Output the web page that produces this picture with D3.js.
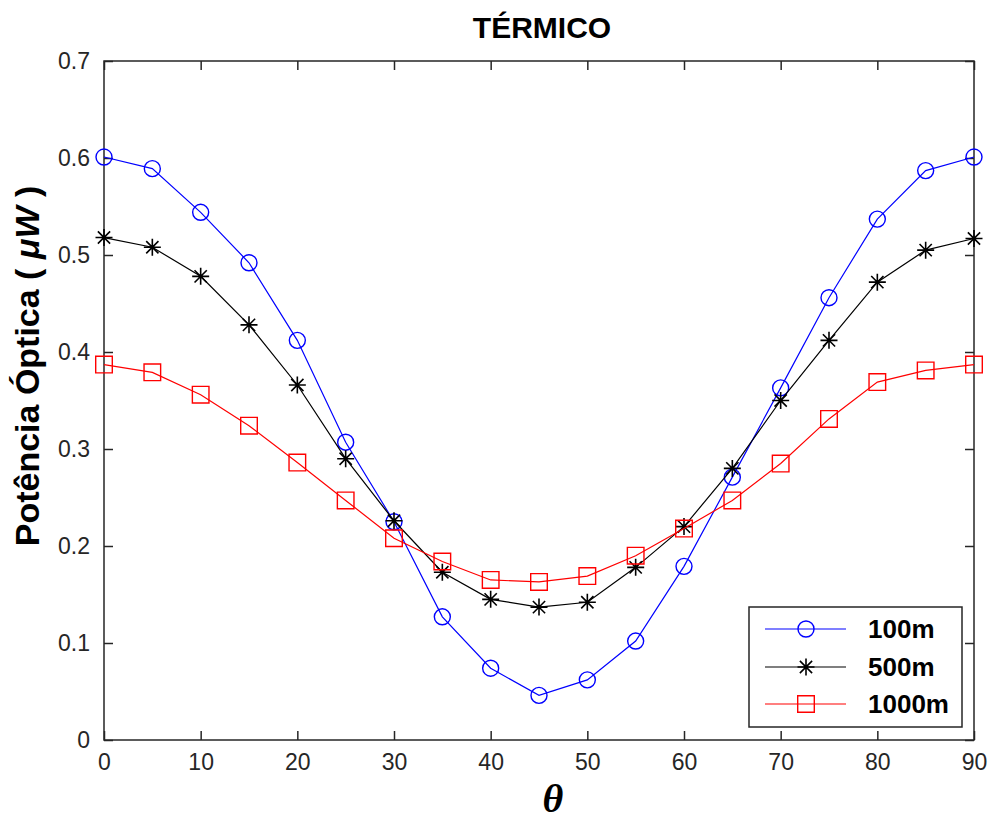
<!DOCTYPE html>
<html>
<head>
<meta charset="utf-8">
<script src="https://cdn.jsdelivr.net/npm/d3@7"></script>
<style>
  html, body { margin: 0; padding: 0; background: #ffffff; }
  svg { display: block; font-family: "Liberation Sans", Arial, sans-serif; }
</style>
</head>
<body>
<svg id="chart" width="988" height="821"></svg>
<script>
// Incidence angle θ (degrees)
const angles = [0, 5, 10, 15, 20, 25, 30, 35, 40, 45, 50, 55, 60, 65, 70, 75, 80, 85, 90];

// Optical power (µW) for each link length
const power100m  = [0.601, 0.589, 0.544, 0.492, 0.412, 0.307, 0.225, 0.127, 0.074, 0.046, 0.062, 0.102, 0.179, 0.271, 0.363, 0.456, 0.537, 0.587, 0.601];
const power500m  = [0.518, 0.508, 0.478, 0.428, 0.366, 0.290, 0.226, 0.173, 0.145, 0.137, 0.142, 0.178, 0.220, 0.280, 0.350, 0.412, 0.472, 0.505, 0.517];
const power1000m = [0.387, 0.379, 0.356, 0.324, 0.286, 0.247, 0.208, 0.184, 0.165, 0.163, 0.169, 0.190, 0.218, 0.247, 0.285, 0.331, 0.369, 0.381, 0.387];

const seriesNames = ["100m", "500m", "1000m"];
const xTicks = [0, 10, 20, 30, 40, 50, 60, 70, 80, 90];
const yTicks = [0, 0.1, 0.2, 0.3, 0.4, 0.5, 0.6, 0.7];

const series = [
  { name: seriesNames[0], values: power100m,  color: "#0000ff", marker: "circle" },
  { name: seriesNames[1], values: power500m,  color: "#000000", marker: "star" },
  { name: seriesNames[2], values: power1000m, color: "#ff0000", marker: "square" }
];

const svg = d3.select("#chart");
const plot = { left: 104, right: 974, top: 61, bottom: 740 };
const axisColor = "#262626";

const x = d3.scaleLinear().domain([0, 90]).range([plot.left, plot.right]);
const y = d3.scaleLinear().domain([0, 0.7]).range([plot.bottom, plot.top]);

// Marker shapes
function markerPath(type, r) {
  const p = d3.path();
  if (type === "circle") {
    p.moveTo(r, 0); p.arc(0, 0, r, 0, 2 * Math.PI);
    return p.toString();
  }
  if (type === "square") {
    p.rect(-r, -r, 2 * r, 2 * r);
    return p.toString();
  }
  // asterisk: plus + diagonal cross
  const d = r * 0.72;
  p.moveTo(-r, 0); p.lineTo(r, 0);
  p.moveTo(0, -r); p.lineTo(0, r);
  p.moveTo(-d, -d); p.lineTo(d, d);
  p.moveTo(-d, d); p.lineTo(d, -d);
  return p.toString();
}
const markerSize = { circle: 8, square: 8.3, star: 8.5 };

// Axes box with inward ticks on all sides
const axisG = svg.append("g").attr("class", "axes");

const bottomAxis = d3.axisBottom(x).tickValues(xTicks).tickSize(-9).tickPadding(14).tickFormat(d3.format("d"));
const topAxis = d3.axisTop(x).tickValues(xTicks).tickSize(-9).tickFormat("");
const leftAxis = d3.axisLeft(y).tickValues(yTicks).tickSize(-9).tickPadding(14).tickFormat(d => d === 0 ? "0" : d3.format(".1f")(d));
const rightAxis = d3.axisRight(y).tickValues(yTicks).tickSize(-9).tickFormat("");

function styleAxis(g) {
  g.select(".domain").remove();
  g.selectAll(".tick line").attr("stroke", axisColor).attr("stroke-width", 1.5);
  g.selectAll(".tick text").attr("fill", axisColor).attr("font-size", 23).attr("font-family", "'Liberation Sans', Arial, sans-serif");
}

axisG.append("g").attr("transform", `translate(0,${plot.bottom})`).call(bottomAxis).call(styleAxis);
axisG.append("g").attr("transform", `translate(0,${plot.top})`).call(topAxis).call(styleAxis);
axisG.append("g").attr("transform", `translate(${plot.left},0)`).call(leftAxis).call(styleAxis);
axisG.append("g").attr("transform", `translate(${plot.right},0)`).call(rightAxis).call(styleAxis);

axisG.append("rect")
  .attr("x", plot.left).attr("y", plot.top)
  .attr("width", plot.right - plot.left).attr("height", plot.bottom - plot.top)
  .attr("fill", "none").attr("stroke", axisColor).attr("stroke-width", 1.5);

// Data lines and markers
const line = d3.line().x((d, i) => x(angles[i])).y(d => y(d));

const seriesG = svg.append("g").attr("class", "series");
series.forEach(s => {
  const g = seriesG.append("g");
  g.append("path")
    .attr("d", line(s.values))
    .attr("fill", "none")
    .attr("stroke", s.color)
    .attr("stroke-width", 1.2);
  g.selectAll("path.marker")
    .data(s.values)
    .join("path")
    .attr("class", "marker")
    .attr("transform", (d, i) => `translate(${x(angles[i])},${y(d)})`)
    .attr("d", markerPath(s.marker, markerSize[s.marker]))
    .attr("fill", "none")
    .attr("stroke", s.color)
    .attr("stroke-width", s.marker === "star" ? 1.6 : 1.4);
});

// Title
svg.append("text")
  .attr("x", (plot.left + plot.right) / 2 + 3)
  .attr("y", 38)
  .attr("text-anchor", "middle")
  .attr("font-size", 30)
  .attr("font-weight", "bold")
  .attr("fill", "#000")
  .text("TÉRMICO");

// Y axis label
const yLabel = svg.append("text")
  .attr("transform", `translate(39,${366}) rotate(-90)`)
  .attr("text-anchor", "middle")
  .attr("font-size", 34)
  .attr("font-weight", "bold")
  .attr("fill", "#000");
yLabel.append("tspan").text("Potência Óptica ( ");
yLabel.append("tspan").attr("font-style", "italic").text("μW");
yLabel.append("tspan").text(" )");

// X axis label
svg.append("text")
  .attr("x", (plot.left + plot.right) / 2 + 14)
  .attr("y", 812)
  .attr("text-anchor", "middle")
  .attr("font-size", 40)
  .attr("font-weight", "bold")
  .attr("font-style", "italic")
  .attr("font-family", "'Liberation Serif', 'DejaVu Serif', serif")
  .attr("fill", "#000")
  .text("θ");

// Legend
const legend = { x: 749, y: 607, w: 213, h: 120, rowY: [629, 667, 704] };
const legendG = svg.append("g").attr("class", "legend");
legendG.append("rect")
  .attr("x", legend.x).attr("y", legend.y)
  .attr("width", legend.w).attr("height", legend.h)
  .attr("fill", "#fff").attr("stroke", axisColor).attr("stroke-width", 1.5);

series.forEach((s, i) => {
  const ry = legend.rowY[i];
  legendG.append("line")
    .attr("x1", 765).attr("x2", 846).attr("y1", ry).attr("y2", ry)
    .attr("stroke", s.color).attr("stroke-width", 1.2);
  legendG.append("path")
    .attr("transform", `translate(806,${ry})`)
    .attr("d", markerPath(s.marker, markerSize[s.marker]))
    .attr("fill", "none").attr("stroke", s.color)
    .attr("stroke-width", s.marker === "star" ? 1.6 : 1.4);
  legendG.append("text")
    .attr("x", 868).attr("y", ry + 9)
    .attr("font-size", 26).attr("font-weight", "bold").attr("fill", "#000")
    .text(s.name);
});
</script>
</body>
</html>
